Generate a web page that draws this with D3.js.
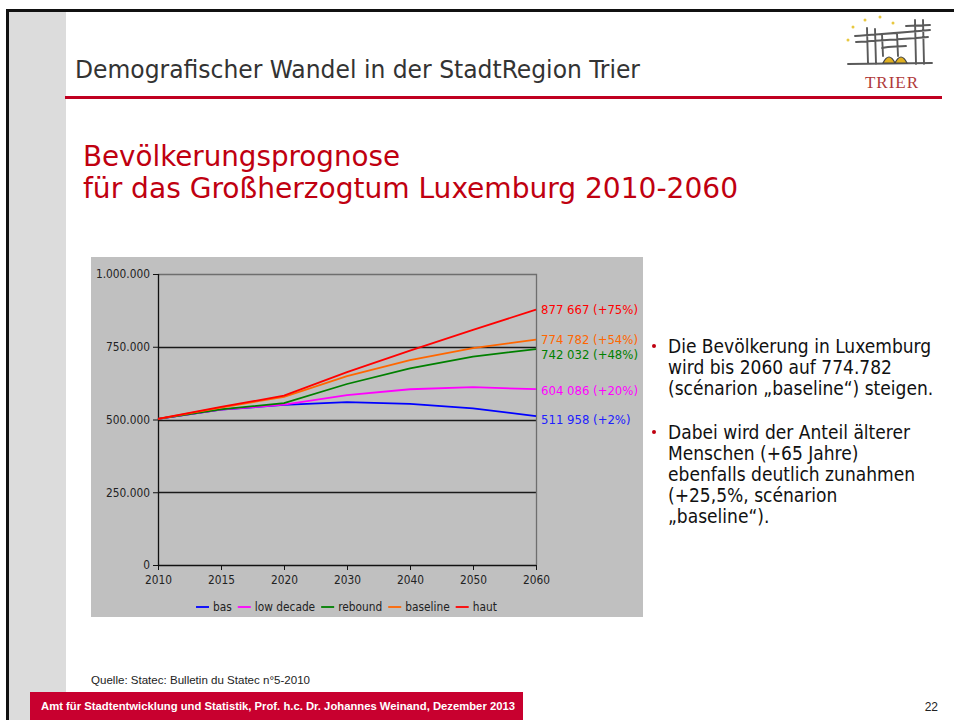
<!DOCTYPE html>
<html><head><meta charset="utf-8">
<script src="https://cdn.jsdelivr.net/npm/d3@7"></script>
<style>
html,body{margin:0;padding:0;background:#fff;}
svg{display:block;}
.cond{font-family:"DejaVu Sans Condensed","DejaVu Sans",sans-serif;font-stretch:condensed;}
.narrow{font-family:"Liberation Sans Narrow","Liberation Sans",Arial,sans-serif;}
</style></head>
<body>
<svg id="slide" width="954" height="720"></svg>
<script>
const years = ["2010","2015","2020","2030","2040","2050","2060"];
const seriesNames = ["bas","low decade","rebound","baseline","haut"];
const seriesColors = ["#0000ff","#ff00ff","#008000","#ff6600","#ff0000"];
const bas       = [502000,534000,550000,560000,554000,538000,511958];
const lowDecade = [502000,534000,551000,584000,604000,611000,604086];
const rebound   = [502000,535000,556000,622000,676000,716000,742032];
const baseline  = [502000,541000,578000,649000,704000,745000,774782];
const haut      = [502000,543000,582000,663000,737000,808000,877667];
const endLabels = ["511 958 (+2%)","604 086 (+20%)","742 032 (+48%)","774 782 (+54%)","877 667 (+75%)"];
const yTicks = [0,250000,500000,750000,1000000];
const yTickLabels = ["0","250.000","500.000","750.000","1.000.000"];
const bulletLines1 = ["Die Bevölkerung in Luxemburg","wird bis 2060 auf 774.782","(scénarion „baseline“) steigen."];
const bulletLines2 = ["Dabei wird der Anteil älterer","Menschen (+65 Jahre)","ebenfalls deutlich zunahmen","(+25,5%, scénarion","„baseline“)."];

const seriesValues = [bas,lowDecade,rebound,baseline,haut];
const svg = d3.select("#slide");

// ---- slide frame ----
svg.append("rect").attr("x",8).attr("y",12).attr("width",58).attr("height",708).attr("fill","#dcdcdc");
svg.append("rect").attr("x",6).attr("y",9).attr("width",948).attr("height",3).attr("fill","#111");
svg.append("rect").attr("x",6).attr("y",9).attr("width",3).attr("height",711).attr("fill","#111");
svg.append("rect").attr("x",65).attr("y",96).attr("width",877).attr("height",3).attr("fill","#c00020");

svg.append("text").attr("class","cond").attr("x",75).attr("y",78)
  .attr("font-size",24).attr("fill","#333")
  .attr("textLength",565).attr("lengthAdjust","spacingAndGlyphs")
  .text("Demografischer Wandel in der StadtRegion Trier");

// ---- logo ----
const logo = svg.append("g");
[[853,27],[865,20],[880,17],[893,23],[848,40]].forEach(p=>{
  logo.append("circle").attr("cx",p[0]).attr("cy",p[1]).attr("r",1.5).attr("fill","#e8c840");
});
const lg = "#5a5a5a";
logo.append("path").attr("d",
  "M855,36 C880,34 900,33 930,30 M856,42 C885,40 905,39 928,37 M848,64 L932,63 " +
  "M867,28 L868,64 M875,29 L876,64 M915,20 L916,64 M923,20 L924,64 M906,26 L930,25 " +
  "M882,34 L883,56 M897,33 L898,56 M882,48 C890,46 898,47 906,46")
  .attr("stroke",lg).attr("stroke-width",1.9).attr("fill","none").attr("stroke-linecap","round");
logo.append("path").attr("d","M883,63 Q889,51 895,63 Z M895,63 Q901,51 907,63 Z").attr("fill","#e0b020").attr("stroke","#444").attr("stroke-width",1.2);
logo.append("text").attr("x",892).attr("y",88).attr("text-anchor","middle")
  .attr("font-family","'Liberation Serif',serif").attr("font-size",17).attr("fill","#b03a3a")
  .attr("letter-spacing",1).text("TRIER");

// ---- heading ----
svg.append("text").attr("class","cond").attr("x",83).attr("y",166)
  .attr("font-size",29).attr("fill","#c00010")
  .attr("textLength",317).attr("lengthAdjust","spacingAndGlyphs")
  .text("Bevölkerungsprognose");
svg.append("text").attr("class","cond").attr("x",83).attr("y",198)
  .attr("font-size",29).attr("fill","#c00010")
  .attr("textLength",655).attr("lengthAdjust","spacingAndGlyphs")
  .text("für das Großherzogtum Luxemburg 2010-2060");

// ---- chart ----
svg.append("rect").attr("x",91).attr("y",257).attr("width",552).attr("height",360).attr("fill","#c0c0c0");
const plot = {left:158,right:536,top:274,bottom:565};
const x = d3.scalePoint().domain(years).range([plot.left,plot.right]);
const y = d3.scaleLinear().domain([0,1000000]).range([plot.bottom,plot.top]);
const g = svg.append("g");

// gridlines
yTicks.filter(v=>v>0 && v<1000000).forEach(v=>{
  g.append("line").attr("x1",plot.left).attr("x2",plot.right)
    .attr("y1",Math.round(y(v))+0.5).attr("y2",Math.round(y(v))+0.5)
    .attr("stroke","#1a1a1a").attr("stroke-width",1.3);
});
// plot border top/right
g.append("path").attr("d",`M${plot.left},${plot.top+0.5} H${plot.right+0.5} V${plot.bottom}`)
  .attr("fill","none").attr("stroke","#6e6e6e").attr("stroke-width",1.3);

// y axis
const yAxis = g.append("g").attr("transform",`translate(${plot.left},0)`)
  .call(d3.axisLeft(y).tickValues(yTicks).tickSize(5).tickPadding(3)
    .tickFormat((d,i)=>yTickLabels[i]));
// x axis
const xAxis = g.append("g").attr("transform",`translate(0,${plot.bottom})`)
  .call(d3.axisBottom(x).tickSize(5).tickPadding(6));
[yAxis,xAxis].forEach(a=>{
  a.select(".domain").attr("stroke","#111").attr("stroke-width",1.3);
  a.selectAll(".tick line").attr("stroke","#111");
  a.selectAll("text").attr("class","cond").attr("font-size",11.8).attr("fill","#222");
});
xAxis.select(".domain").attr("d",`M${plot.left},0.5H${plot.right}`);
yAxis.select(".domain").attr("d",`M0.5,${plot.top}V${plot.bottom}`);

// lines
const line = d3.line().x((d,i)=>x(years[i])).y(d=>y(d));
seriesValues.forEach((vals,i)=>{
  g.append("path").datum(vals).attr("d",line).attr("fill","none")
    .attr("stroke",seriesColors[i]).attr("stroke-width",1.8);
});

// end labels
const labelDy = [7.5,5.5,10,4.5,4.5];
seriesValues.forEach((vals,i)=>{
  g.append("text").attr("class","cond").attr("x",x("2060")+5)
    .attr("y",y(vals[vals.length-1])+labelDy[i])
    .attr("font-size",13).attr("fill",seriesColors[i]==="#0000ff"?"#2020ff":seriesColors[i])
    .text(endLabels[i]);
});

// legend
let lx = 196;
const ly = 607;
seriesNames.forEach((n,i)=>{
  g.append("line").attr("x1",lx).attr("x2",lx+13).attr("y1",ly).attr("y2",ly)
    .attr("stroke",seriesColors[i]).attr("stroke-width",1.8);
  const t = g.append("text").attr("class","cond").attr("x",lx+17).attr("y",ly+4)
    .attr("font-size",11.8).attr("fill","#222").text(n);
  lx += 17 + t.node().getComputedTextLength() + 6;
});

// ---- bullets ----
const bx = 668;
function bullets(lines, y0){
  svg.append("circle").attr("cx",654).attr("cy",y0-7).attr("r",2).attr("fill","#c00010");
  lines.forEach((l,i)=>{
    svg.append("text").attr("class","cond").attr("x",bx).attr("y",y0+i*21)
      .attr("font-size",19).attr("fill","#111").text(l);
  });
}
bullets(bulletLines1,353);
bullets(bulletLines2,439);

// ---- source & footer ----
svg.append("text").attr("class","narrow").attr("x",91).attr("y",684)
  .attr("font-size",11).attr("fill","#222")
  .attr("textLength",219).attr("lengthAdjust","spacingAndGlyphs")
  .text("Quelle: Statec: Bulletin du Statec n°5-2010");
svg.append("rect").attr("x",30).attr("y",692).attr("width",493).attr("height",28).attr("fill","#c8002f");
svg.append("text").attr("class","narrow").attr("x",41).attr("y",710)
  .attr("font-size",11.2).attr("font-weight","bold").attr("fill","#fff")
  .attr("textLength",474).attr("lengthAdjust","spacingAndGlyphs")
  .text("Amt für Stadtentwicklung und Statistik, Prof. h.c. Dr. Johannes Weinand, Dezember 2013");
svg.append("text").attr("class","narrow").attr("x",938).attr("y",711).attr("text-anchor","end")
  .attr("font-size",12).attr("fill","#222").text("22");
</script>
</body></html>
